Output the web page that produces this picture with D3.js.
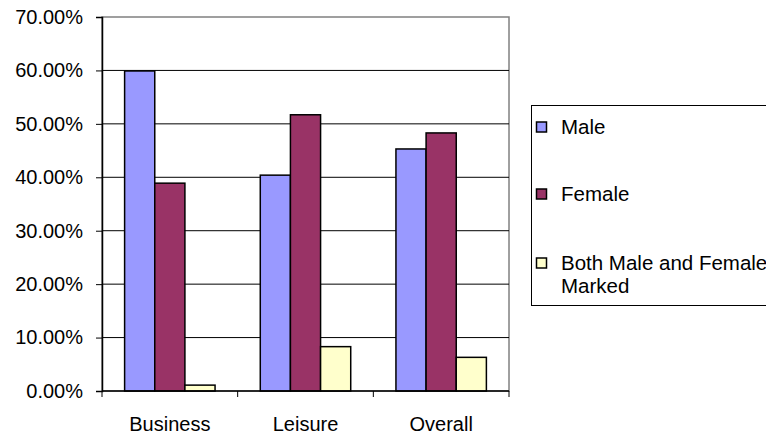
<!DOCTYPE html>
<html>
<head>
<meta charset="utf-8">
<script src="https://cdn.jsdelivr.net/npm/d3@7"></script>
<style>
  html, body { margin: 0; padding: 0; background: #fff; }
  svg { display: block; }
  text { font-family: "Liberation Sans", Arial, sans-serif; fill: #000; }
</style>
</head>
<body>
<svg id="chart" width="766" height="439"></svg>
<script>
// Share of respondents by trip purpose (percent)
const categories = ["Business", "Leisure", "Overall"];
const seriesNames = ["Male", "Female", "Both Male and Female Marked"];
const male   = [59.9, 40.4, 45.3];
const female = [38.9, 51.7, 48.3];
const both   = [1.1, 8.3, 6.3];
const yTicks = [0, 10, 20, 30, 40, 50, 60, 70];
const colors = ["#9999FF", "#993366", "#FFFFCC"];

const seriesValues = [male, female, both];

const svg = d3.select("#chart");
const plot = { left: 102, right: 509, top: 17, bottom: 391 };

const y = d3.scaleLinear().domain([0, 70]).range([plot.bottom, plot.top]);
const x0 = d3.scaleBand().domain(categories).range([plot.left, plot.right]).padding(0);
const x1 = d3.scaleBand().domain(d3.range(seriesNames.length))
  .range([0, x0.bandwidth()]).paddingInner(0).paddingOuter(0.75);

// plot frame (top and right edges)
svg.append("rect")
  .attr("x", plot.left).attr("y", plot.top)
  .attr("width", plot.right - plot.left).attr("height", plot.bottom - plot.top)
  .attr("fill", "none").attr("stroke", "#808080").attr("stroke-width", 1.5);

// horizontal gridlines
svg.append("g").selectAll("line")
  .data(yTicks.filter(t => t > 0 && t < 70))
  .join("line")
  .attr("x1", plot.left).attr("x2", plot.right)
  .attr("y1", d => y(d)).attr("y2", d => y(d))
  .attr("stroke", "#000").attr("stroke-width", 1);

// bars
const groups = svg.append("g").selectAll("g")
  .data(categories)
  .join("g")
  .attr("transform", d => `translate(${x0(d)},0)`);

groups.selectAll("rect")
  .data((d, ci) => seriesValues.map((vals, si) => ({ si, v: vals[ci] })))
  .join("rect")
  .attr("x", d => x1(d.si))
  .attr("width", x1.bandwidth())
  .attr("y", d => y(d.v))
  .attr("height", d => y(0) - y(d.v))
  .attr("fill", d => colors[d.si])
  .attr("stroke", "#000")
  .attr("stroke-width", 1.5);

// y axis
const yAxis = svg.append("g")
  .attr("transform", `translate(${plot.left},0)`)
  .call(d3.axisLeft(y).tickValues(yTicks).tickSize(6).tickPadding(13)
    .tickFormat(d => d.toFixed(2) + "%"));
yAxis.select(".domain").attr("stroke", "#000").attr("stroke-width", 1.5);
yAxis.selectAll(".tick line").attr("stroke", "#000");
yAxis.selectAll("text").attr("font-size", 20).attr("fill", "#000")
  .style("font-family", "'Liberation Sans', Arial, sans-serif");

// x axis: ticks on category boundaries
const xAxisG = svg.append("g");
xAxisG.append("line")
  .attr("x1", plot.left).attr("x2", plot.right)
  .attr("y1", plot.bottom).attr("y2", plot.bottom)
  .attr("stroke", "#000").attr("stroke-width", 1.5);
const boundaries = categories.map(c => x0(c)).concat([x0(categories[categories.length - 1]) + x0.bandwidth()]);
xAxisG.selectAll("line.tick")
  .data(boundaries)
  .join("line")
  .attr("class", "tick")
  .attr("x1", d => d).attr("x2", d => d)
  .attr("y1", plot.bottom).attr("y2", plot.bottom + 6)
  .attr("stroke", "#000");
xAxisG.selectAll("text")
  .data(categories)
  .join("text")
  .attr("x", d => x0(d) + x0.bandwidth() / 2)
  .attr("y", 431)
  .attr("text-anchor", "middle")
  .attr("font-size", 20)
  .text(d => d);

// legend
const legend = svg.append("g");
legend.append("rect")
  .attr("x", 531.5).attr("y", 105.5)
  .attr("width", 260).attr("height", 200)
  .attr("fill", "#fff").attr("stroke", "#000").attr("stroke-width", 1);

const legendRows = [
  { lines: ["Male"], y: 127 },
  { lines: ["Female"], y: 194 },
  { lines: ["Both Male and Female", "Marked"], y: 263 }
];
legendRows.forEach((row, i) => {
  legend.append("rect")
    .attr("x", 536.5).attr("y", row.y - 5)
    .attr("width", 10).attr("height", 10)
    .attr("fill", colors[i]).attr("stroke", "#000").attr("stroke-width", 1.5);
  const t = legend.append("text")
    .attr("x", 561).attr("y", row.y + 7)
    .attr("font-size", 20.5);
  row.lines.forEach((ln, k) => {
    t.append("tspan").attr("x", 561).attr("dy", k === 0 ? 0 : 23).text(ln);
  });
});
</script>
</body>
</html>
